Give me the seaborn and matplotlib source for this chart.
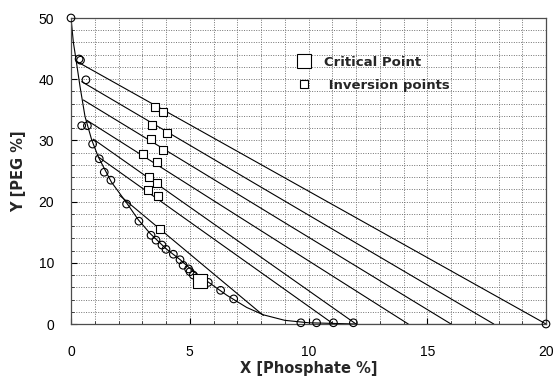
import numpy as np
import pandas as pd
import matplotlib
matplotlib.use("Agg")
import matplotlib.pyplot as plt
import seaborn as sns
from matplotlib.lines import Line2D
from matplotlib.ticker import MultipleLocator

# ---- data ----
circ_x = [0, 0.34, 0.40, 0.63, 0.45, 0.69, 0.91, 1.19, 1.40, 1.68, 2.34, 2.86, 3.37, 3.58,
          3.83, 4.0, 4.31, 4.59, 4.72, 4.95, 5.01, 5.15, 5.78, 6.30, 6.85, 9.68, 10.34, 11.05, 11.89, 20.0]
circ_y = [50, 43.3, 43.1, 39.9, 32.4, 32.4, 29.4, 27.0, 24.8, 23.5, 19.6, 16.8, 14.5, 13.7,
          12.9, 12.2, 11.4, 10.5, 9.6, 9.0, 8.55, 8.0, 6.8, 5.5, 4.1, 0.2, 0.2, 0.2, 0.2, 0]

bin_x = [0, 0.1, 0.2, 0.38, 0.59, 0.87, 1.15, 1.43, 1.7, 2.34, 2.84, 3.33, 4.0, 4.6, 5.15,
         5.8, 6.56, 7.4, 8.1, 9.0, 10.0, 12.0]
bin_y = [50, 46, 43.5, 38.8, 33.9, 30.1, 27.3, 25.2, 23.2, 19.8, 17.0, 14.8, 12.3, 10.5, 8.6,
         6.8, 4.7, 2.7, 1.5, 0.6, 0.2, 0.0]

tie_x_left = [0.24, 0.45, 0.52, 0.66, 0.94, 1.15, 2.05]
tie_y_left = [42.9, 39.6, 36.6, 33.3, 30.2, 27.3, 21.0]
tie_x_right = [20.0, 17.8, 16.0, 14.2, 12.0, 11.05, 8.1]
tie_y_right = [0, 0, 0, 0, 0, 0, 1.4]

inv_x = [3.54, 3.89, 3.40, 4.03, 3.36, 3.89, 3.02, 3.61, 3.30, 3.64, 3.26, 3.68, 3.75]
inv_y = [35.5, 34.6, 32.5, 31.2, 30.2, 28.5, 27.8, 26.4, 24.0, 23.1, 21.9, 20.9, 15.5]

crit_x = [5.43]
crit_y = [7.0]

x_ticks = [0, 5, 10, 15, 20]
y_ticks = [0, 10, 20, 30, 40, 50]

# ---- style ----
sns.set_theme(style="white")
plt.rcParams['font.family'] = ['Liberation Sans', 'DejaVu Sans']

fig = plt.figure(figsize=(5.54, 3.76), dpi=100)
ax = fig.add_axes([71/554, 1-324/376, 475/554, 306/376])

# tie lines
rows = []
for i in range(len(tie_x_left)):
    rows.append({"tie": i, "x": tie_x_left[i], "y": tie_y_left[i]})
    rows.append({"tie": i, "x": tie_x_right[i], "y": tie_y_right[i]})
tie_df = pd.DataFrame(rows)
sns.lineplot(data=tie_df, x="x", y="y", units="tie", estimator=None, color="black",
             lw=0.8, ax=ax, sort=False)

# binodal curve
bin_df = pd.DataFrame({"x": bin_x, "y": bin_y})
sns.lineplot(data=bin_df, x="x", y="y", color="black", lw=0.8, ax=ax, sort=False)
ax.plot([12, 20], [0, 0], color="black", lw=0.8)

# points
sns.scatterplot(x=circ_x, y=circ_y, marker="o", s=30, facecolors="none",
                edgecolor="black", linewidth=0.8, ax=ax, clip_on=False, zorder=4)
sns.scatterplot(x=inv_x, y=inv_y, marker="s", s=30, color="white",
                edgecolor="black", linewidth=0.8, ax=ax, zorder=5)
sns.scatterplot(x=crit_x, y=crit_y, marker="s", s=110, color="white",
                edgecolor="black", linewidth=0.8, ax=ax, zorder=5)

ax.set_xlim(0, 20)
ax.set_ylim(0, 50)
ax.set_xticks(x_ticks)
ax.set_yticks(y_ticks)
ax.set_xticklabels([str(t) for t in x_ticks], fontsize=10)
ax.set_yticklabels([str(t) for t in y_ticks], fontsize=10)
ax.xaxis.set_minor_locator(MultipleLocator(1))
ax.yaxis.set_minor_locator(MultipleLocator(2))
ax.tick_params(axis="both", which="major", direction="in", length=4, width=0.8,
               colors="black", pad=15, left=True, bottom=True)
ax.tick_params(axis="y", which="major", pad=12)
ax.tick_params(axis="both", which="minor", direction="in", length=2, width=0.6,
               left=True, bottom=True)
for s in ax.spines.values():
    s.set_color("0.3")
    s.set_linewidth(0.9)
    s.set_visible(True)

ax.set_axisbelow(True)
ax.xaxis.grid(True, which="both", linestyle=(0, (1, 1.5)), color="0.45", linewidth=0.7)
ax.yaxis.grid(True, which="both", linestyle=(0, (1, 1.5)), color="0.45", linewidth=0.7)

lab_font = {"family": "DejaVu Sans", "weight": "bold", "size": 10.5}
ax.set_xlabel("X [Phosphate %]", fontdict=lab_font, labelpad=1.5)
ax.set_ylabel("Y [PEG %]", fontdict=lab_font, labelpad=9)

handles = [
    Line2D([], [], marker="s", linestyle="none", markersize=10, markerfacecolor="white",
           markeredgecolor="black", markeredgewidth=0.8, label="Critical Point"),
    Line2D([], [], marker="s", linestyle="none", markersize=5.5, markerfacecolor="white",
           markeredgecolor="black", markeredgewidth=0.8, label=" Inversion points"),
]
leg = ax.legend(handles=handles, loc="upper left", bbox_to_anchor=(0.451, 0.893),
                frameon=False, handletextpad=0.55, labelspacing=0.75, borderaxespad=0,
                prop={"family": "DejaVu Sans", "weight": "bold", "size": 9.5})

fig.savefig("out.png", dpi=100)
